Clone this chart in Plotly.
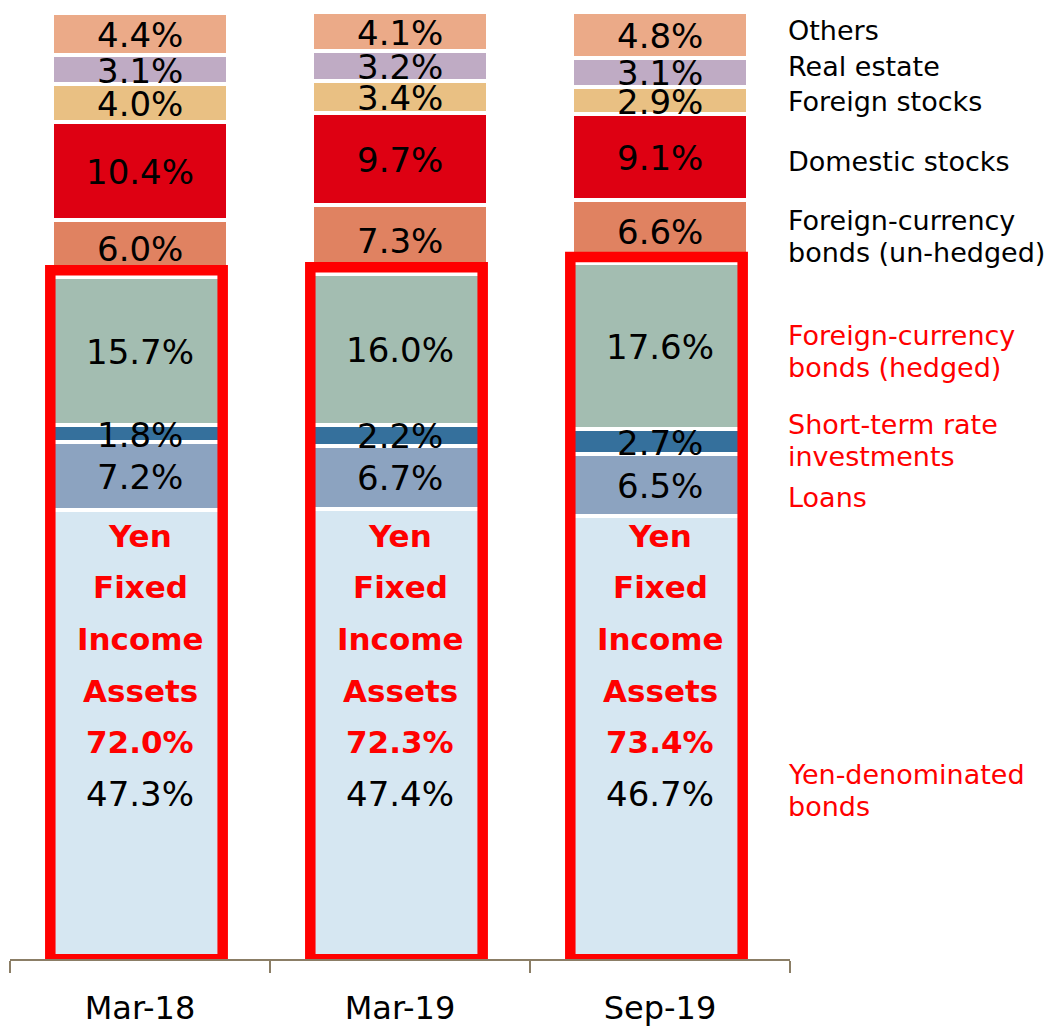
import plotly.graph_objects as go
import numpy as np

# ---------------- data ----------------
categories = ["Mar-18", "Mar-19", "Sep-19"]

yen_bonds = [47.3, 47.4, 46.7]
loans = [7.2, 6.7, 6.5]
short_term = [1.8, 2.2, 2.7]
fc_hedged = [15.7, 16.0, 17.6]
fc_unhedged = [6.0, 7.3, 6.6]
dom_stocks = [10.4, 9.7, 9.1]
for_stocks = [4.0, 3.4, 2.9]
real_estate = [3.1, 3.2, 3.1]
others = [4.4, 4.1, 4.8]

yen_fixed_income_total = [72.0, 72.3, 73.4]

series_names = ["Yen-denominated bonds", "Loans", "Short-term rate investments",
                "Foreign-currency bonds (hedged)", "Foreign-currency bonds (un-hedged)",
                "Domestic stocks", "Foreign stocks", "Real estate", "Others"]
series_values = [yen_bonds, loans, short_term, fc_hedged, fc_unhedged,
                 dom_stocks, for_stocks, real_estate, others]
series_colors = ["#D6E7F2", "#8CA3C0", "#35709C", "#A3BDB1", "#E08261",
                 "#DE0012", "#E9C083", "#BFABC4", "#EBAA88"]

# right-side labels: lines, y position (in % units), colour
side_labels = [["Others"], ["Real estate"], ["Foreign stocks"], ["Domestic stocks"],
               ["Foreign-currency", "bonds (un-hedged)"],
               ["Foreign-currency", "bonds (hedged)"],
               ["Short-term rate", "investments"], ["Loans"],
               ["Yen-denominated", "bonds"]]
side_label_y = [98.1, 94.3, 90.6, 84.2, 76.3, 64.1, 54.7, 48.6, 17.6]
side_label_colors = ["#000000"] * 5 + ["#FF0000"] * 4

yen_block_lines = ["Yen", "Fixed", "Income", "Assets"]
yen_block_y = [44.8, 39.3, 33.8, 28.3, 22.9, 17.4]

FONT = "DejaVu Sans"
x = np.arange(len(categories))

fig = go.Figure()

for name, vals, col in zip(series_names, series_values, series_colors):
    fig.add_trace(go.Bar(
        x=x, y=vals, name=name, width=0.675,
        marker=dict(color=col, line=dict(color="white", width=4.5)),
        showlegend=False, hoverinfo="skip",
    ))

# red frames around yen fixed income assets
bx0, bx1 = -0.345, 0.318
for i, tot in enumerate(yen_fixed_income_total):
    y0, y1 = -0.28, tot + 0.7
    xm = i + (bx0 + bx1) / 2
    fig.add_trace(go.Scatter(
        x=[xm, i + bx1, i + bx1, i + bx0, i + bx0, xm],
        y=[y0, y0, y1, y1, y0, y0],
        mode="lines", line=dict(color="#FF0000", width=10.5),
        cliponaxis=False, showlegend=False, hoverinfo="skip",
    ))

annotations = []
# segment percentage labels (except yen bonds)
vals_arr = np.array(series_values)
bottoms = np.vstack([np.zeros(len(categories)), np.cumsum(vals_arr, axis=0)[:-1]])
for s in range(1, len(series_values)):
    for i in range(len(categories)):
        v = vals_arr[s, i]
        annotations.append(dict(
            x=i, y=bottoms[s, i] + v / 2, xref="x", yref="y",
            text=f"{v:.1f}%", showarrow=False, yshift=-1,
            font=dict(family=FONT, size=34, color="#000000"),
            xanchor="center", yanchor="middle",
        ))

# yen fixed income block text
for i in range(len(categories)):
    lines = yen_block_lines + [f"{yen_fixed_income_total[i]:.1f}%"]
    for j, t in enumerate(lines):
        annotations.append(dict(
            x=i, y=yen_block_y[j], xref="x", yref="y",
            text=f"<b>{t}</b>", showarrow=False, yshift=-2,
            font=dict(family=FONT, size=31, color="#FF0000"),
            xanchor="center", yanchor="middle",
        ))
    annotations.append(dict(
        x=i, y=yen_block_y[-1], xref="x", yref="y",
        text=f"{yen_bonds[i]:.1f}%", showarrow=False, yshift=-2,
        font=dict(family=FONT, size=34, color="#000000"),
        xanchor="center", yanchor="middle",
    ))

# right-side category labels
LINE_STEP = 32
for lines, yv, c in zip(side_labels, side_label_y, side_label_colors):
    n = len(lines)
    for k, t in enumerate(lines):
        annotations.append(dict(
            x=1.0, y=yv, xref="paper", yref="y", xshift=-4,
            yshift=((n - 1) / 2 - k) * LINE_STEP,
            text=t, showarrow=False, align="left",
            font=dict(family=FONT, size=27, color=c),
            xanchor="left", yanchor="middle",
        ))

# page body has an 8px default margin: the figure is sized to the visible area
fig.update_layout(
    width=1053, height=1018,
    margin=dict(l=2, r=271, t=2, b=67),
    paper_bgcolor="white", plot_bgcolor="white",
    barmode="stack", bargap=0,
    annotations=annotations,
    xaxis=dict(
        range=[-0.5, 2.5], tickmode="array", tickvals=list(x), ticktext=categories,
        ticks="outside", ticklen=20, tickcolor="rgba(0,0,0,0)",
        tickfont=dict(family=FONT, size=32, color="#000000"),
        showline=True, linecolor="#8B7E66", linewidth=2,
        showgrid=False, zeroline=False, layer="below traces", automargin=False,
        minor=dict(tickmode="array", tickvals=[-0.5, 0.5, 1.5, 2.5],
                   ticks="outside", ticklen=12, tickcolor="#8B7E66", tickwidth=2,
                   showgrid=False),
    ),
    yaxis=dict(range=[-0.265, 100.26], visible=False, showgrid=False,
               zeroline=False, automargin=False),
)

fig.write_html("out.html")
